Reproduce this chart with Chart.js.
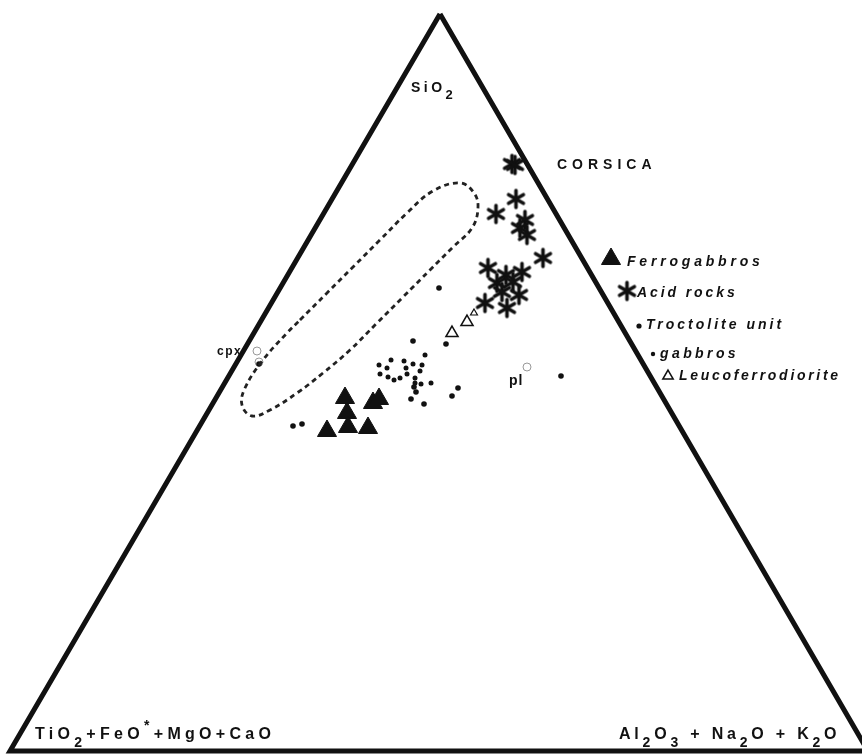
<!DOCTYPE html>
<html>
<head>
<meta charset="utf-8">
<script src="https://cdn.jsdelivr.net/npm/chart.js@4.4.0/dist/chart.umd.min.js"></script>
<style>
  html, body { margin: 0; padding: 0; background: #fff; overflow: hidden; }
  canvas { display: block; }
</style>
</head>
<body>
<canvas id="ternario" width="862" height="755"></canvas>
<script>
// plot coordinates (same frame as the page, y grows downwards)
const frame = [
  { x: 440, y: 14 }, { x: 10, y: 751 }, { x: 868, y: 751 }, { x: 440, y: 14 },
];

const ferrogabbros = [
  { x: 345, y: 398 }, { x: 347, y: 413 }, { x: 348, y: 427 }, { x: 327, y: 431 },
  { x: 368, y: 428 }, { x: 373, y: 403 }, { x: 379, y: 399 },
];

const acidRocks = [
  { x: 512, y: 164 }, { x: 515, y: 165 }, { x: 516, y: 199 }, { x: 496, y: 214 },
  { x: 525, y: 220 }, { x: 520, y: 228 }, { x: 527, y: 235 }, { x: 543, y: 258 },
  { x: 488, y: 268 }, { x: 506, y: 275 }, { x: 522, y: 272 }, { x: 497, y: 283 },
  { x: 513, y: 282 }, { x: 502, y: 292 }, { x: 519, y: 295 }, { x: 485, y: 303 },
  { x: 507, y: 308 },
];

const troctolite = [
  { x: 293, y: 426 }, { x: 302, y: 424 }, { x: 411, y: 399 }, { x: 424, y: 404 },
  { x: 452, y: 396 }, { x: 458, y: 388 }, { x: 413, y: 341 }, { x: 446, y: 344 },
  { x: 439, y: 288 }, { x: 561, y: 376 }, { x: 416, y: 392 }, { x: 414, y: 387 },
  { x: 259, y: 364 },
];

const gabbros = [
  { x: 379, y: 365 }, { x: 391, y: 360 }, { x: 404, y: 361 }, { x: 413, y: 364 },
  { x: 422, y: 365 }, { x: 387, y: 368 }, { x: 406, y: 368 }, { x: 420, y: 371 },
  { x: 380, y: 374 }, { x: 388, y: 377 }, { x: 394, y: 380 }, { x: 400, y: 378 },
  { x: 407, y: 374 }, { x: 415, y: 378 }, { x: 415, y: 383 }, { x: 421, y: 384 },
  { x: 431, y: 383 }, { x: 425, y: 355 },
];

const leucoferrodiorite = [
  { x: 452, y: 333 }, { x: 467, y: 322 },
];
const leucoSmall = [{ x: 474, y: 313 }];

const minerals = [
  { x: 257, y: 351 }, { x: 259, y: 362 }, { x: 527, y: 367 },
];

// dashed field, outline read round from the picture
const field = [
  { x: 300, y: 320 }, { x: 327, y: 293 }, { x: 353, y: 267 }, { x: 380, y: 240 },
  { x: 407, y: 213 }, { x: 433, y: 191 }, { x: 460, y: 183 }, { x: 474, y: 193 },
  { x: 478, y: 208 }, { x: 472, y: 228 }, { x: 453, y: 247 }, { x: 430, y: 270 },
  { x: 403, y: 297 }, { x: 377, y: 323 }, { x: 350, y: 350 }, { x: 323, y: 373 },
  { x: 297, y: 393 }, { x: 270, y: 410 }, { x: 252, y: 416 }, { x: 242, y: 405 },
  { x: 245, y: 388 }, { x: 263, y: 360 }, { x: 287, y: 333 }, { x: 300, y: 320 },
];

// asterisk symbol (6 arms)
function asterisco(r, lw) {
  const c = document.createElement("canvas");
  const s = Math.ceil(2 * r + lw + 2);
  c.width = s; c.height = s;
  const g = c.getContext("2d");
  g.strokeStyle = "#111";
  g.lineWidth = lw;
  g.lineCap = "round";
  for (let i = 0; i < 3; i++) {
    const a = Math.PI / 2 + (i * Math.PI) / 3;
    g.beginPath();
    g.moveTo(s / 2 + Math.cos(a) * r, s / 2 + Math.sin(a) * r);
    g.lineTo(s / 2 - Math.cos(a) * r, s / 2 - Math.sin(a) * r);
    g.stroke();
  }
  return c;
}
const astImg = asterisco(8.5, 3.6);

const FONT = '"Liberation Sans", Arial, sans-serif';

function rich(ctx, parts, x, y, size, spacing, italic) {
  ctx.save();
  ctx.textBaseline = "middle";
  ctx.textAlign = "left";
  ctx.fillStyle = "#111";
  if ("letterSpacing" in ctx) ctx.letterSpacing = spacing + "px";
  for (const p of parts) {
    const sz = p.sub || p.sup ? Math.round(size * 0.9) : size;
    ctx.font = (italic ? "italic " : "") + "bold " + sz + "px " + FONT;
    const dy = p.sub ? size * 0.5 : p.sup ? -size * 0.55 : 0;
    ctx.fillText(p.t, x, y + dy);
    x += ctx.measureText(p.t).width;
  }
  ctx.restore();
}

const textos = {
  id: "textos",
  afterDatasetsDraw(chart) {
    const ctx = chart.ctx;
    const sx = chart.scales.x, sy = chart.scales.y;
    const P = (x, y) => [sx.getPixelForValue(x), sy.getPixelForValue(y)];

    let [x, y] = P(411, 88);
    rich(ctx, [{ t: "SiO" }, { t: "2", sub: true }], x, y, 14, 3.5);
    [x, y] = P(557, 165);
    rich(ctx, [{ t: "CORSICA" }], x, y, 14, 5);
    [x, y] = P(217, 352);
    rich(ctx, [{ t: "cpx" }], x, y, 12, 1.5);
    [x, y] = P(509, 381);
    rich(ctx, [{ t: "pl" }], x, y, 14, 1);
    [x, y] = P(35, 735);
    rich(ctx, [{ t: "TiO" }, { t: "2", sub: true }, { t: "+FeO" }, { t: "*", sup: true },
      { t: "+MgO+CaO" }], x, y, 16, 4.3);
    [x, y] = P(619, 735);
    rich(ctx, [{ t: "Al" }, { t: "2", sub: true }, { t: "O" }, { t: "3", sub: true },
      { t: " + Na" }, { t: "2", sub: true }, { t: "O + K" }, { t: "2", sub: true }, { t: "O" }],
      x, y, 16, 3.8);

    // legend
    const dp = Chart.helpers.drawPoint;
    ctx.save();
    ctx.fillStyle = "#111";
    ctx.strokeStyle = "#111";
    [x, y] = P(611, 259);
    ctx.lineWidth = 1;
    dp(ctx, { pointStyle: "triangle", radius: 11, borderWidth: 1 }, x, y);
    [x, y] = P(627, 291);
    ctx.drawImage(astImg, x - astImg.width / 2, y - astImg.height / 2);
    [x, y] = P(639, 326);
    dp(ctx, { pointStyle: "circle", radius: 2.6, borderWidth: 0 }, x, y);
    [x, y] = P(653, 354);
    dp(ctx, { pointStyle: "circle", radius: 2.2, borderWidth: 0 }, x, y);
    [x, y] = P(668, 376);
    ctx.fillStyle = "#fff";
    ctx.lineWidth = 1.5;
    dp(ctx, { pointStyle: "triangle", radius: 6, borderWidth: 1.5 }, x, y);
    ctx.restore();

    [x, y] = P(627, 262);
    rich(ctx, [{ t: "Ferrogabbros" }], x, y, 14, 3.8, true);
    [x, y] = P(637, 293);
    rich(ctx, [{ t: "Acid rocks" }], x, y, 14, 2.9, true);
    [x, y] = P(646, 325);
    rich(ctx, [{ t: "Troctolite unit" }], x, y, 14, 3.0, true);
    [x, y] = P(660, 354);
    rich(ctx, [{ t: "gabbros" }], x, y, 14, 3.4, true);
    [x, y] = P(679, 376);
    rich(ctx, [{ t: "Leucoferrodiorite" }], x, y, 14, 2.7, true);
  },
};

const ctx = document.getElementById("ternario").getContext("2d");

new Chart(ctx, {
  type: "scatter",
  data: {
    datasets: [
      {
        label: "frame",
        data: frame,
        showLine: true,
        borderColor: "#111",
        borderWidth: 5,
        borderJoinStyle: "miter",
        pointRadius: 0,
        clip: false,
      },
      {
        label: "field",
        data: field,
        showLine: true,
        tension: 0.4,
        borderColor: "#222",
        borderWidth: 2.8,
        borderDash: [5, 4],
        pointRadius: 0,
      },
      {
        label: "Ferrogabbros",
        data: ferrogabbros,
        pointStyle: "triangle",
        pointRadius: 11,
        backgroundColor: "#111",
        borderColor: "#111",
        borderWidth: 1,
      },
      {
        label: "Acid rocks",
        data: acidRocks,
        pointStyle: astImg,
      },
      {
        label: "Troctolite unit",
        data: troctolite,
        pointRadius: 2.8,
        backgroundColor: "#111",
        borderWidth: 0,
      },
      {
        label: "gabbros",
        data: gabbros,
        pointRadius: 2.5,
        backgroundColor: "#111",
        borderWidth: 0,
      },
      {
        label: "Leucoferrodiorite",
        data: leucoferrodiorite,
        pointStyle: "triangle",
        pointRadius: 7,
        backgroundColor: "#fff",
        borderColor: "#111",
        borderWidth: 1.5,
      },
      {
        label: "Leucoferrodiorite small",
        data: leucoSmall,
        pointStyle: "triangle",
        pointRadius: 4,
        backgroundColor: "#fff",
        borderColor: "#111",
        borderWidth: 1.2,
      },
      {
        label: "cpx / pl",
        data: minerals,
        pointRadius: 4,
        backgroundColor: "#fff",
        borderColor: "#999",
        borderWidth: 1,
      },
    ],
  },
  options: {
    responsive: false,
    animation: false,
    layout: { padding: 0, autoPadding: false },
    plugins: {
      legend: { display: false },
      tooltip: { enabled: false },
    },
    scales: {
      x: { type: "linear", min: 0, max: 862, display: false },
      y: { type: "linear", min: 0, max: 755, reverse: true, display: false },
    },
  },
  plugins: [textos],
});
</script>
</body>
</html>
